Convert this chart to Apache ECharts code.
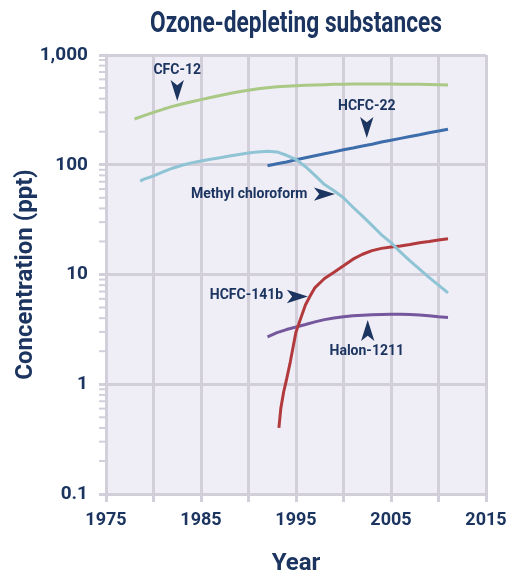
<!DOCTYPE html>
<html>
<head>
<meta charset="utf-8">
<script src="https://cdn.jsdelivr.net/npm/echarts@6/dist/echarts.min.js"></script>
<style>
html,body{margin:0;padding:0;background:#ffffff;}
#chart{width:508px;height:573px;}
</style>
</head>
<body>
<div id="chart"></div>
<script>
// ---- data ----
const titleText = 'Ozone-depleting substances';
const xAxisName = 'Year';
const yAxisName = 'Concentration (ppt)';
const xTickLabels = ['1975', '1985', '1995', '2005', '2015'];
const yTickLabels = ['0.1', '1', '10', '100', '1,000'];
const yMinorTicks = [0.2,0.3,0.4,0.5,0.6,0.7,0.8,0.9, 2,3,4,5,6,7,8,9, 20,30,40,50,60,70,80,90, 200,300,400,500,600,700,800,900];

const cfc12Years = [1978,1979,1980,1981,1982,1983,1984,1985,1986,1987,1988,1989,1990,1991,1992,1993,1994,1995,1996,1997,1998,1999,2000,2001,2002,2003,2004,2005,2006,2007,2008,2009,2010,2011];
const cfc12Values = [261,280,300,320,340,358,375,392,410,428,446,463,478,492,504,513,520,525,530,534,537,540,542,543,544,544,544,543,542,541,540,538,536,532];

const mcYears = [1978.6,1979,1980,1981,1982,1983,1984,1985,1986,1987,1988,1989,1990,1991,1992,1993,1994,1995,1996,1997,1998,1999,2000,2001,2002,2003,2004,2005,2006,2007,2008,2009,2010,2011];
const mcValues = [71,74,79,86,93,99,104,108,112,116,120,124,128,131,133,131,122,112,96,80,66,58,50,41,34,28,23,19.5,16,13.3,11.2,9.4,8,6.8];

const hcfc22Years = [1992,1993,1994,1995,1996,1997,1998,1999,2000,2001,2002,2003,2004,2005,2006,2007,2008,2009,2010,2011];
const hcfc22Values = [98,102,106,111,116,121,126,131,137,142,148,154,161,167,174,181,188,196,203,211];

const hcfc141bYears = [1993.2,1993.4,1993.7,1994,1994.4,1994.7,1995,1995.5,1996,1996.5,1997,1998,1999,2000,2001,2002,2003,2004,2005,2006,2007,2008,2009,2010,2011];
const hcfc141bValues = [0.4,0.6,0.85,1.1,1.6,2.2,3.0,4.0,5.3,6.4,7.6,9.2,10.5,12.0,13.8,15.3,16.5,17.3,17.8,18.2,18.8,19.5,20.0,20.6,21.2];

const halonYears = [1992,1993,1994,1995,1996,1997,1998,1999,2000,2001,2002,2003,2004,2005,2006,2007,2008,2009,2010,2011];
const halonValues = [2.7,2.95,3.15,3.32,3.5,3.7,3.88,4.02,4.12,4.2,4.26,4.3,4.33,4.35,4.35,4.33,4.28,4.2,4.12,4.05];

// annotation anchors (data space): label anchor and arrow tip
const annNames = ['CFC-12', 'HCFC-22', 'Methyl chloroform', 'HCFC-141b', 'Halon-1211'];
const annLabelYears = [1982.5, 2002.45, 1996.2, 1993.65, 2002.45];
const annLabelValues = [730, 336, 54, 6.4, 1.97];
const annArrowYears = [1982.5, 2002.45, 1999.1, 1996.25, 2002.55];
const annArrowValues = [381, 175, 54, 6.3, 3.85];

// ---- style ----
const NAVY = '#1c3560';
const GRID = '#d2cfda';
const FONT = "Roboto, 'Liberation Sans', sans-serif";

function pairs(xs, ys) { return xs.map((x, i) => [x, ys[i]]); }

// horizontal condensing factor for the title (fit to target width)
function fitScale(text, font, targetW) {
  const c = document.createElement('canvas').getContext('2d');
  c.font = font;
  const w = c.measureText(text).width;
  return w > 0 ? targetW / w : 1;
}
const titleFont = "bold 29px Roboto, 'Liberation Sans', sans-serif";
const titleScale = fitScale(titleText, titleFont, 292);

const labelPos = ['inside', 'inside', 'left', 'left', 'inside'];
const arrowRot = [180, 180, -90, -90, 0];

const markData = [];
annNames.forEach((n, i) => {
  markData.push({
    name: n, coord: [annLabelYears[i], annLabelValues[i]], symbol: 'circle', symbolSize: 0,
    label: { show: true, position: labelPos[i], distance: 0, formatter: n }
  });
  markData.push({
    name: n + '-arrow', coord: [annArrowYears[i], annArrowValues[i]], symbol: 'arrow',
    symbolSize: [10, 21], symbolRotate: arrowRot[i], label: { show: false },
    itemStyle: { color: NAVY }
  });
});

function lineSeries(name, xs, ys, color) {
  return {
    name: name, type: 'line', data: pairs(xs, ys), showSymbol: false, symbol: 'none',
    lineStyle: { color: color, width: 3 }, itemStyle: { color: color }, silent: true
  };
}

const chart = echarts.init(document.getElementById('chart'), null, { renderer: 'canvas' });
const option = {
  animation: false,
  backgroundColor: '#ffffff',
  graphic: [{
    type: 'text', x: 296, y: 10, scaleX: titleScale, originX: 0, silent: true,
    style: { text: titleText, font: titleFont, fill: NAVY, textAlign: 'center', textVerticalAlign: 'top' }
  }],
  grid: { left: 106, right: 22, top: 55, bottom: 79, show: true, backgroundColor: '#efedf6', borderWidth: 0,
          outerBoundsMode: 'none', containLabel: false },
  xAxis: {
    type: 'value', min: 1975, max: 2015, interval: 5,
    name: xAxisName, nameLocation: 'middle', nameGap: 58,
    nameTextStyle: { color: NAVY, fontFamily: FONT, fontWeight: 'bold', fontSize: 24 },
    axisLine: { show: true, lineStyle: { color: GRID, width: 3 } },
    axisTick: { show: true, length: 8, lineStyle: { color: GRID, width: 3 } },
    axisLabel: {
      color: NAVY, fontFamily: FONT, fontWeight: 'bold', fontSize: 18, margin: 17,
      hideOverlap: false, showMinLabel: true, showMaxLabel: true,
      formatter: v => { const k = (v - 1975) / 10; return Number.isInteger(k) ? xTickLabels[k] : ''; }
    },
    splitLine: { show: true, lineStyle: { color: GRID, width: 3 } }
  },
  yAxis: {
    type: 'log', logBase: 10, min: 0.1, max: 1000,
    name: yAxisName, nameLocation: 'middle', nameGap: 68, nameRotate: 90, nameMoveOverlap: false,
    nameTextStyle: { color: NAVY, fontFamily: FONT, fontWeight: 'bold', fontSize: 24 },
    axisLine: { show: true, lineStyle: { color: GRID, width: 3 } },
    axisTick: { show: true, length: 7, lineStyle: { color: GRID, width: 3 } },
    axisLabel: {
      color: NAVY, fontFamily: FONT, fontWeight: 'bold', fontSize: 19, margin: 18,
      showMinLabel: true, showMaxLabel: true,
      formatter: v => yTickLabels[Math.round(Math.log10(v)) + 1]
    },
    splitLine: { show: true, lineStyle: { color: GRID, width: 3 } }
  },
  series: [
    {
      type: 'custom', silent: true, clip: false, z: 1,
      data: yMinorTicks.map(v => [1975, v]),
      renderItem: (params, api) => {
        const p = api.coord([api.value(0), api.value(1)]);
        return { type: 'line', shape: { x1: p[0] - 7, y1: p[1], x2: p[0] - 1, y2: p[1] },
                 style: { stroke: GRID, lineWidth: 2 } };
      }
    },
    lineSeries('Halon-1211', halonYears, halonValues, '#74579c'),
    lineSeries('HCFC-141b', hcfc141bYears, hcfc141bValues, '#b23a3d'),
    lineSeries('HCFC-22', hcfc22Years, hcfc22Values, '#3d6dab'),
    lineSeries('Methyl chloroform', mcYears, mcValues, '#8ec4d4'),
    lineSeries('CFC-12', cfc12Years, cfc12Values, '#a9c985'),
    {
      type: 'scatter', data: [], silent: true,
      markPoint: {
        silent: true, animation: false,
        label: { color: NAVY, fontFamily: FONT, fontWeight: 'bold', fontSize: 14 },
        itemStyle: { color: NAVY },
        data: markData
      }
    }
  ]
};
chart.setOption(option);
</script>
</body>
</html>
